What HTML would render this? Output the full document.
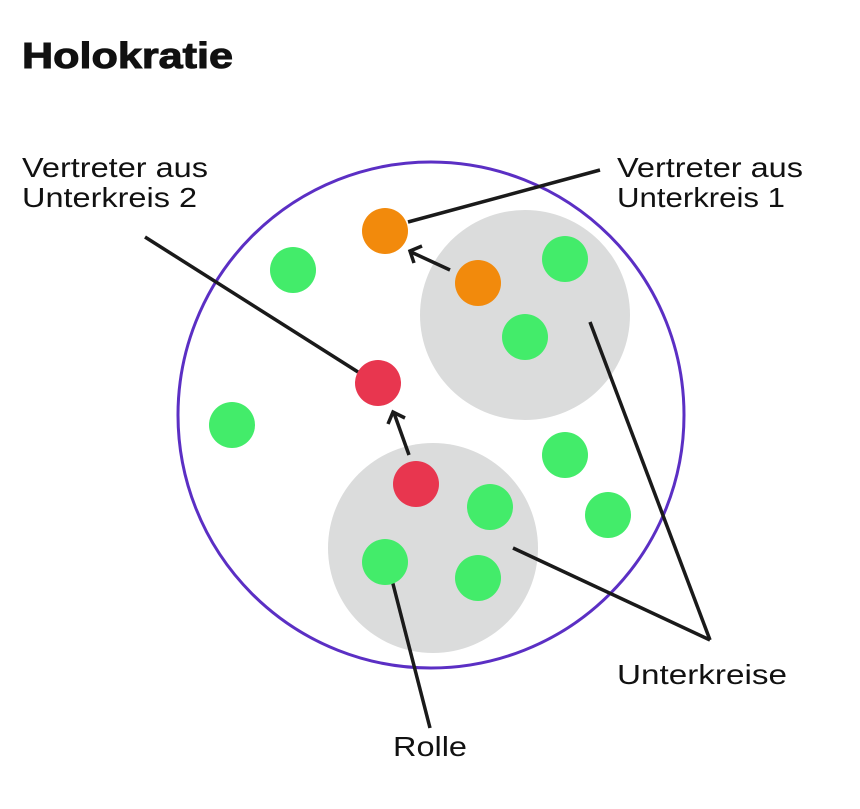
<!DOCTYPE html>
<html><head><style>body{margin:0;background:#fff}</style></head><body>
<svg width="860" height="804" viewBox="0 0 860 804" xmlns="http://www.w3.org/2000/svg" font-family="Liberation Sans, sans-serif">
<rect width="860" height="804" fill="#fff"/>
<text x="22" y="68" font-size="36" font-weight="bold" fill="#111" stroke="#111" stroke-width="1" textLength="211" lengthAdjust="spacingAndGlyphs">Holokratie</text>
<circle cx="431" cy="415" r="253" fill="none" stroke="#5b2fc4" stroke-width="3"/>
<circle cx="525" cy="315" r="105" fill="#dbdcdc"/>
<circle cx="433" cy="548" r="105" fill="#dbdcdc"/>
<g stroke="#1a1a1a" stroke-width="3.5" fill="none">
<line x1="408" y1="222" x2="600" y2="170"/>
<line x1="145" y1="237" x2="358" y2="372"/>
<line x1="450" y1="270" x2="411" y2="252"/>
<polyline points="422,246 410,251 414,263"/>
<line x1="409" y1="455" x2="394" y2="413"/>
<polyline points="388,424 393,412 405,418"/>
<line x1="392" y1="580" x2="430" y2="728"/>
<line x1="513" y1="548" x2="710" y2="640"/>
<line x1="590" y1="322" x2="710" y2="640"/>
</g>
<g fill="#f28a0c"><circle cx="385" cy="231" r="23"/><circle cx="478" cy="283" r="23"/></g>
<g fill="#e8364f"><circle cx="378" cy="383" r="23"/><circle cx="416" cy="484" r="23"/></g>
<g fill="#43ec6a">
<circle cx="293" cy="270" r="23"/><circle cx="565" cy="259" r="23"/><circle cx="525" cy="337" r="23"/>
<circle cx="232" cy="425" r="23"/><circle cx="565" cy="455" r="23"/><circle cx="608" cy="515" r="23"/>
<circle cx="490" cy="507" r="23"/><circle cx="385" cy="562" r="23"/><circle cx="478" cy="578" r="23"/>
</g>
<g font-size="28" fill="#111" lengthAdjust="spacingAndGlyphs">
<text x="22" y="177" textLength="186" lengthAdjust="spacingAndGlyphs">Vertreter aus</text><text x="22" y="207" textLength="175" lengthAdjust="spacingAndGlyphs">Unterkreis 2</text>
<text x="617" y="177" textLength="186" lengthAdjust="spacingAndGlyphs">Vertreter aus</text><text x="617" y="207" textLength="168" lengthAdjust="spacingAndGlyphs">Unterkreis 1</text>
<text x="617" y="684" textLength="170" lengthAdjust="spacingAndGlyphs">Unterkreise</text>
<text x="393" y="756" textLength="74" lengthAdjust="spacingAndGlyphs">Rolle</text>
</g>
</svg>
</body></html>
